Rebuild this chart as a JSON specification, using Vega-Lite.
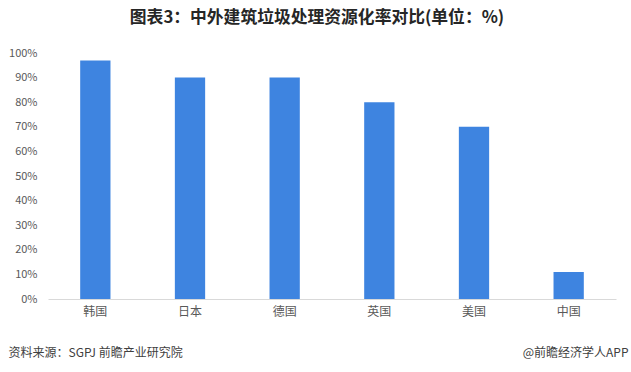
{
  "$schema": "https://vega.github.io/schema/vega-lite/v6.json",
  "width": 568,
  "height": 246,
  "autosize": {"type": "none"},
  "padding": {"left": 48, "top": 53, "right": 15, "bottom": 73},
  "background": "white",
  "config": {"view": {"stroke": null}, "font": "Noto Sans CJK SC"},
  "title": {
    "text": "图表3：中外建筑垃圾处理资源化率对比(单位：%)",
    "fontSize": 16.8,
    "fontWeight": "bold",
    "color": "#262626",
    "font": "Noto Sans CJK SC",
    "anchor": "middle",
    "baseline": "bottom",
    "offset": 3,
    "dx": -15
  },
  "data": {
    "values": [
      {"country": "韩国", "rate": 97},
      {"country": "日本", "rate": 90},
      {"country": "德国", "rate": 90},
      {"country": "英国", "rate": 80},
      {"country": "美国", "rate": 70},
      {"country": "中国", "rate": 11}
    ]
  },
  "resolve": {"axis": {"x": "independent"}},
  "layer": [
    {
      "mark": {"type": "bar", "color": "#3E84E0"},
      "encoding": {
        "x": {
          "field": "country",
          "type": "nominal",
          "sort": null,
          "scale": {"paddingInner": 0.68, "paddingOuter": 0.34},
          "axis": {
            "orient": "bottom",
            "title": "资料来源：SGPJ 前瞻产业研究院",
            "titleFont": "Noto Sans CJK SC",
            "titleFontSize": 12,
            "titleFontWeight": "normal",
            "titleColor": "#404040",
            "titleAnchor": "start",
            "titleAlign": "left",
            "titleBaseline": "middle",
            "titleX": -40,
            "titleY": 53,
            "labelAngle": 0,
            "labelFontSize": 12,
            "labelColor": "#595959",
            "labelPadding": 7,
            "ticks": false,
            "domainColor": "#d9d9d9",
            "domainWidth": 1,
            "grid": false
          }
        },
        "y": {
          "field": "rate",
          "type": "quantitative",
          "scale": {"domain": [0, 100]},
          "axis": {
            "title": null,
            "values": [0, 10, 20, 30, 40, 50, 60, 70, 80, 90, 100],
            "labelExpr": "datum.value + '%'",
            "labelOverlap": false,
            "labelFontSize": 11,
            "labelColor": "#595959",
            "labelPadding": 11,
            "ticks": false,
            "domain": false,
            "grid": false
          }
        }
      }
    },
    {
      "mark": {"type": "bar", "opacity": 0},
      "encoding": {
        "x": {
          "field": "country",
          "type": "nominal",
          "sort": null,
          "axis": {
            "orient": "bottom",
            "title": "@前瞻经济学人APP",
            "titleFont": "Noto Sans CJK SC",
            "titleFontSize": 12,
            "titleFontWeight": "normal",
            "titleColor": "#404040",
            "titleAnchor": "end",
            "titleAlign": "right",
            "titleBaseline": "middle",
            "titleX": 580,
            "titleY": 53,
            "labels": false,
            "ticks": false,
            "domain": false,
            "grid": false
          }
        },
        "y": {
          "field": "rate",
          "type": "quantitative",
          "axis": {
            "title": null,
            "values": [0, 10, 20, 30, 40, 50, 60, 70, 80, 90, 100],
            "labelExpr": "datum.value + '%'",
            "labelOverlap": false,
            "labelFontSize": 11,
            "labelColor": "#595959",
            "labelPadding": 11,
            "ticks": false,
            "domain": false,
            "grid": false
          }
        }
      }
    }
  ]
}
